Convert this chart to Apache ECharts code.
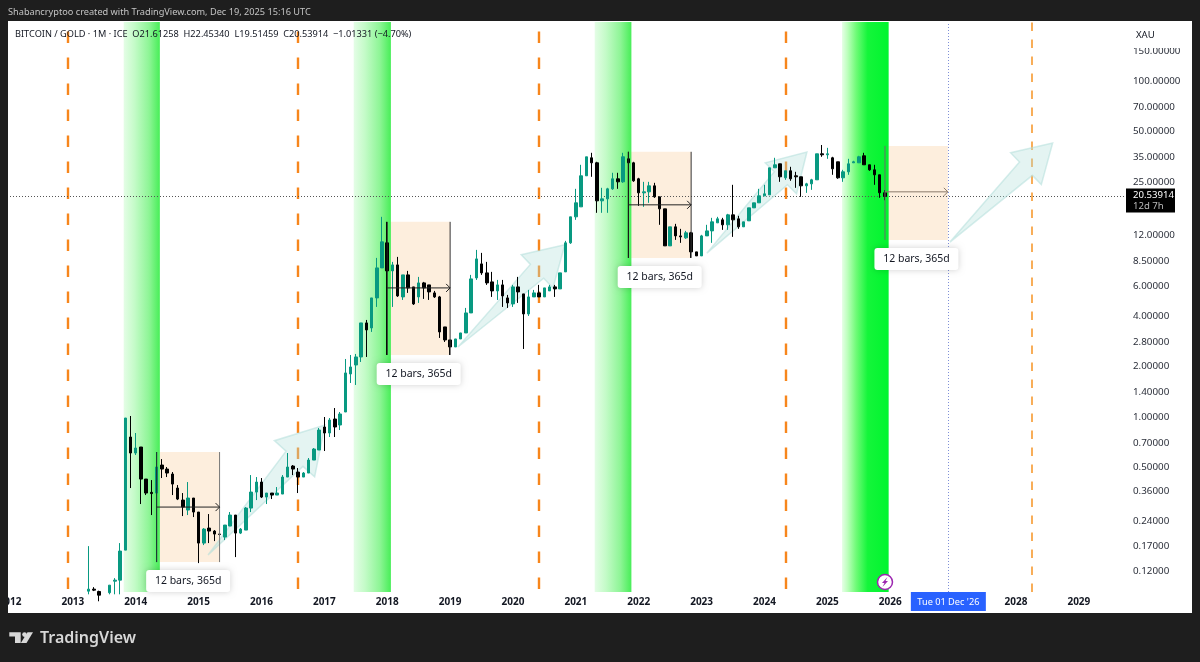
<!DOCTYPE html>
<html>
<head>
<meta charset="utf-8">
<title>BITCOIN / GOLD</title>
<script src="https://cdn.jsdelivr.net/npm/echarts@6/dist/echarts.min.js"></script>
<style>
    html, body { margin: 0; padding: 0; background: #1e1e1e; }
    #mychart { width: 1200px; height: 662px; }
</style>
</head>
<body>
<div id="mychart"></div>
<script>
// months are counted from Jan 2013 = 0
const firstMonth = 3;
const opens = [.0919,.0945,.0915,.0860,.0900,.1054,.1069,.1613,.7600,.6104,.6626,.4272,.3560,.3527,.5177,.4900,.4576,.3777,.3203,.2793,.3293,.2718,.1776,.2182,.2094,.2010,.1929,.2243,.2608,.2037,.2123,.2871,.3575,.4100,.3338,.3527,.3431,.3478,.4391,.5106,.4703,.4391,.4639,.5544,.6359,.8718,.8032,.9729,.8960,1.071,1.804,2.040,2.277,3.631,3.390,5.115,7.718,10.88,7.409,8.043,5.186,7.013,5.949,5.186,6.284,6.114,5.479,5.186,3.437,2.875,2.612,2.915,3.165,4.164,6.730,8.154,7.209,6.371,5.631,6.114,5.115,4.711,5.949,5.404,4.107,5.186,5.479,5.186,5.631,5.949,5.787,7.308,10.88,15.54,17.82,27.27,34.90,32.59,19.35,19.88,22.81,26.17,25.11,34.42,32.59,26.17,21.59,21.89,23.77,20.44,17.34,10.44,13.55,11.97,11.65,12.48,9.613,9.099,11.97,12.82,14.31,14.91,13.93,15.97,15.12,13.55,14.71,17.58,18.83,20.72,21.01,30.43,32.14,26.53,29.21,27.27,26.90,23.77,24.43,25.81,36.87,36.37,34.90,33.04,26.53,28.81,32.59,32.59,35.87,31.71,29.60,27.65,21.61258];
const closes = [.0945,.0932,.0870,.0870,.0998,.1069,.1592,.9863,.6104,.6536,.4272,.3527,.3500,.5037,.4900,.4639,.3989,.3248,.2910,.3293,.2718,.1776,.2152,.2094,.2010,.2000,.2274,.2608,.2037,.2152,.2871,.3575,.4100,.3338,.3527,.3431,.3527,.4391,.5037,.4900,.4391,.4639,.5544,.6447,.8366,.8032,.9596,.8718,1.042,1.829,1.985,2.277,3.631,3.298,5.115,7.718,11.03,7.409,8.043,5.257,7.013,5.867,4.711,6.284,5.867,5.554,5.186,3.209,2.875,2.612,2.915,3.165,4.164,6.638,8.732,7.209,6.284,5.631,6.114,5.257,4.776,5.949,5.554,4.107,5.186,5.479,5.186,5.867,5.949,5.787,7.209,10.88,15.54,18.83,27.27,35.38,32.59,19.35,19.88,22.81,26.17,25.11,35.38,32.59,25.46,21.59,21.89,23.77,20.44,17.34,10.44,13.55,11.97,11.81,12.48,9.613,9.099,11.97,12.82,14.51,15.12,13.93,15.97,14.91,13.55,14.51,17.58,18.83,20.72,21.30,30.43,31.71,26.90,29.21,26.17,26.90,23.77,24.43,25.81,36.87,36.37,36.87,30.01,26.53,28.81,32.14,33.04,35.38,31.71,29.60,27.65,21.61,20.53914];
const lows = [.0880,.0920,.0800,.0780,.0880,.0880,.0880,.1613,.3777,.5938,.3033,.3431,.2608,.1369,.4332,.4391,.3431,.3203,.2572,.2608,.2537,.1350,.1728,.1776,.1825,.1955,.1851,.2243,.1466,.2010,.2123,.2718,.3203,.3293,.3033,.3248,.3431,.3478,.4391,.4513,.3527,.4391,.4639,.5544,.6359,.6273,.7600,.7600,.8366,1.071,1.594,1.551,2.126,2.277,3.209,4.521,7.718,2.340,4.521,5.186,4.976,5.479,4.646,4.776,5.045,4.976,5.115,2.955,2.797,2.340,2.612,2.915,3.165,4.164,6.547,7.013,6.114,5.186,4.976,4.521,4.459,4.521,4.776,2.541,3.996,5.186,5.186,5.186,5.631,5.186,5.787,7.308,10.73,14.91,17.82,27.27,26.90,16.42,16.42,16.42,22.50,22.81,24.77,8.853,25.11,18.07,17.82,18.83,20.16,13.93,10.44,10.44,11.33,10.88,11.49,8.853,9.099,9.099,11.97,10.88,14.31,13.00,13.00,11.81,13.18,13.55,14.71,17.58,18.83,20.72,21.01,30.43,25.11,25.81,25.46,23.13,20.44,21.59,22.50,25.81,35.38,34.42,27.65,26.17,25.11,27.65,32.59,32.59,31.71,29.21,24.10,20.16,19.51459];
const highs = [.1704,.0971,.0925,.0895,.0998,.1099,.1776,.9863,1.014,.8032,.6626,.4272,.4214,.6188,.5621,.5037,.4703,.3935,.3527,.4100,.3293,.2718,.2182,.2644,.2123,.2037,.2274,.2718,.2608,.2182,.2910,.4513,.4391,.4332,.3527,.3527,.3829,.4513,.6104,.5177,.4968,.4703,.5699,.6536,.8600,1.000,.9863,1.131,1.071,2.215,2.340,2.373,3.631,3.782,5.115,8.853,15.54,14.51,8.381,8.975,7.013,7.409,5.949,6.823,6.371,6.114,5.631,5.257,3.437,2.875,2.915,3.165,4.459,7.013,9.880,9.482,8.381,7.308,6.547,6.547,5.330,6.114,6.823,5.404,5.708,5.708,6.114,5.867,6.114,6.114,7.209,11.18,15.54,22.81,31.71,35.38,37.38,33.04,23.13,23.13,28.42,28.42,37.38,37.90,33.04,26.53,25.11,25.11,24.77,20.44,17.34,13.55,14.12,13.18,12.82,12.65,9.613,12.14,13.93,15.33,15.54,15.33,16.19,24.10,15.76,14.51,17.58,18.83,22.81,24.10,30.43,34.90,32.14,29.21,30.85,28.81,26.90,24.77,26.17,36.87,41.60,40.00,35.38,33.04,29.60,34.42,33.49,35.87,37.38,31.71,31.71,27.65,22.4534];

const cycleMonths = [-1, 43, 89, 136, 183];
const bandStart = [9.7, 53.6, 99.6, 146.8];
const bandEnd = [16.6, 60.7, 106.6, 155.7];

const measureStart = [16, 60, 106, 155];
const measureEnd = [28, 72, 118, 167];
const measureHigh = [0.6188, 14.51, 37.90, 41.1];
const measureLow = [0.1369, 2.340, 8.853, 11.33];
const measureMid = [0.2910, 5.867, 18.32, 21.89];
const measureText = '12 bars, 365d';

const arrowTailMonth = [25.8, 73.5, 121, 167.4];
const arrowTailPrice = [0.151, 2.61, 9.45, 11.0];
const arrowTipMonth = [48.1, 93.9, 140.1, 187];
const arrowTipPrice = [0.896, 10.6, 37.8, 42.8];

const priceTicks = [0.12, 0.17, 0.24, 0.36, 0.5, 0.7, 1, 1.4, 2, 2.8, 4, 6, 8.5, 12, 25, 35, 50, 70, 100, 150];
const yearZero = 2013;
const lastPrice = 20.53914;
const lastPriceText = '20.53914';
const countdownText = '12d 7h';
const cursorMonth = 167;
const cursorText = "Tue 01 Dec '26";
const markerMonth = 155;

const titleText = 'Shabancryptoo created with TradingView.com, Dec 19, 2025 15:16 UTC';
const legendText = 'BITCOIN / GOLD · 1M · ICE  O21.61258  H22.45340  L19.51459  C20.53914  −1.01331 (−4.70%)';

const FONT = '"Noto Sans", sans-serif';
const DARK = '#1e1e1e';

const candles = opens.map((o, i) => [firstMonth + i, o, closes[i], lows[i], highs[i]]);
const bands = bandStart.map((s, i) => [s, bandEnd[i], 1]);
const measures = measureStart.map((s, i) => [s, measureEnd[i], measureLow[i], measureHigh[i], measureMid[i]]);
const arrows = arrowTailMonth.map((m, i) => [m, arrowTipMonth[i], arrowTailPrice[i], arrowTipPrice[i]]);

function bandGradient(i) {
    let stops = [[0, '#e4fde6'], [0.3, '#c4fbc8'], [0.7, '#8ef596'], [1, '#48ee58']];
    if (i === 3) {
        stops = [[0, '#e6ffe6'], [0.12, '#bcffbc'], [0.3, '#70fb78'], [0.55, '#14f53a'], [1, '#00f52e']];
    }
    return new echarts.graphic.LinearGradient(0, 0, 1, 0, stops.map(s => ({ offset: s[0], color: s[1] })));
}

function renderBand(params, api) {
    let a = api.coord([api.value(0), 1]);
    let b = api.coord([api.value(1), 1]);
    let sys = params.coordSys;
    return {
        type: 'rect',
        shape: { x: a[0], y: sys.y, width: b[0] - a[0], height: sys.height },
        style: { fill: bandGradient(params.dataIndex) }
    };
}

function renderMeasureFill(params, api) {
    let a = api.coord([api.value(0), api.value(3)]);
    let b = api.coord([api.value(1), api.value(2)]);
    return {
        type: 'rect',
        shape: { x: a[0], y: a[1], width: b[0] - a[0], height: b[1] - a[1] },
        style: { fill: '#fdeedd' }
    };
}

function renderMeasureLines(params, api) {
    let a = api.coord([api.value(0), api.value(3)]);
    let b = api.coord([api.value(1), api.value(2)]);
    let midY = api.coord([api.value(0), api.value(4)])[1];
    let faded = params.dataIndex === 3;
    let lineColor = faded ? '#6b6b6b' : '#222222';
    let children = [
        { type: 'line', shape: { x1: a[0], y1: a[1], x2: a[0], y2: b[1] }, style: { stroke: lineColor, lineWidth: 1 } },
        { type: 'line', shape: { x1: a[0], y1: midY, x2: b[0], y2: midY }, style: { stroke: faded ? '#8a7a6a' : '#222222', lineWidth: 1 } },
        { type: 'polyline', shape: { points: [[b[0] - 4, midY - 4], [b[0], midY], [b[0] - 4, midY + 4]] }, style: { stroke: faded ? '#8a7a6a' : '#222222', fill: 'none', lineWidth: 1 } },
        // label box under the range
        { type: 'rect', shape: { x: (a[0] + b[0]) / 2 - 42, y: b[1] + 8, width: 84, height: 22, r: 3 }, style: { fill: '#ffffff', shadowBlur: 6, shadowColor: 'rgba(0,0,0,0.18)' } },
        { type: 'text', style: { x: (a[0] + b[0]) / 2, y: b[1] + 19, text: measureText, fill: '#131722', font: '10.5px ' + FONT, align: 'center', verticalAlign: 'middle' } }
    ];
    if (!faded) {
        children.unshift({ type: 'line', shape: { x1: b[0], y1: a[1], x2: b[0], y2: b[1] }, style: { stroke: params.dataIndex === 0 ? '#777777' : '#333333', lineWidth: 1 } });
    }
    return { type: 'group', children: children };
}

function renderArrow(params, api) {
    let tail = api.coord([api.value(0), api.value(2)]);
    let tip = api.coord([api.value(1), api.value(3)]);
    let dx = tip[0] - tail[0], dy = tip[1] - tail[1];
    let len = Math.sqrt(dx * dx + dy * dy);
    let ux = dx / len, uy = dy / len;
    let bx = tip[0] - ux * len * 0.26, by = tip[1] - uy * len * 0.26;
    let wing = len * 0.155, neck = len * 0.065;
    return {
        type: 'polygon',
        shape: { points: [
            tail,
            [bx - uy * neck, by + ux * neck],
            [bx - uy * wing, by + ux * wing],
            tip,
            [bx + uy * wing, by - ux * wing],
            [bx + uy * neck, by - ux * neck]
        ] },
        style: { fill: 'rgba(178,223,219,0.35)', stroke: 'rgba(178,223,219,0.55)', lineWidth: 1.5 }
    };
}

function renderTags(params, api) {
    let sys = params.coordSys;
    let priceY = api.coord([0, lastPrice])[1];
    let cursorX = api.coord([cursorMonth, 1])[0];
    let markerX = api.coord([markerMonth, 1])[0];
    let bottom = sys.y + sys.height;
    return {
        type: 'group',
        children: [
            { type: 'rect', shape: { x: sys.x + sys.width, y: priceY - 8, width: 49, height: 24 }, style: { fill: '#000000' } },
            { type: 'text', style: { x: sys.x + sys.width + 7, y: priceY - 1, text: lastPriceText, fill: '#ffffff', font: '9.6px ' + FONT, verticalAlign: 'middle' } },
            { type: 'text', style: { x: sys.x + sys.width + 7, y: priceY + 10, text: countdownText, fill: '#b8b8b8', font: '9.6px ' + FONT, verticalAlign: 'middle' } },
            { type: 'rect', shape: { x: cursorX - 37, y: bottom, width: 75, height: 19 }, style: { fill: '#2962ff' } },
            { type: 'text', style: { x: cursorX + 0.5, y: bottom + 10, text: cursorText, fill: '#ffffff', font: '9.2px ' + FONT, align: 'center', verticalAlign: 'middle' } },
            { type: 'circle', shape: { cx: markerX, cy: bottom - 10, r: 7.5 }, style: { fill: '#ffffff', stroke: '#9c27b0', lineWidth: 1.5 } },
            { type: 'polygon', shape: { points: [[markerX + 2.5, bottom - 15], [markerX - 3, bottom - 9], [markerX - 0.5, bottom - 9], [markerX - 2.5, bottom - 5], [markerX + 3, bottom - 11], [markerX + 0.5, bottom - 11]] }, style: { fill: '#9c27b0' } }
        ]
    };
}

const frame = [
    { type: 'rect', z: 100, shape: { x: 0, y: 0, width: 1200, height: 21 }, style: { fill: DARK } },
    { type: 'rect', z: 100, shape: { x: 0, y: 0, width: 8, height: 662 }, style: { fill: DARK } },
    { type: 'rect', z: 100, shape: { x: 1192, y: 0, width: 8, height: 662 }, style: { fill: DARK } },
    { type: 'rect', z: 100, shape: { x: 0, y: 613, width: 1200, height: 49 }, style: { fill: DARK } },
    { type: 'text', z: 101, style: { x: 8, y: 12, text: titleText, fill: '#c4c4c4', font: '9.2px ' + FONT, verticalAlign: 'middle' } },
    { type: 'text', z: 101, style: { x: 15, y: 34, text: legendText, fill: '#131722', font: '9.2px ' + FONT, verticalAlign: 'middle' } },
    { type: 'rect', z: 90, shape: { x: 1127, y: 23, width: 60, height: 25 }, style: { fill: '#ffffff' } },
    { type: 'text', z: 101, style: { x: 1136, y: 35, text: 'XAU', fill: '#131722', font: '9.6px ' + FONT, verticalAlign: 'middle' } },
    // TradingView logo
    { type: 'polygon', z: 101, shape: { points: [[9.3, 632.3], [20.7, 632.3], [20.7, 643], [15, 643], [15, 636.5], [9.3, 636.5]] }, style: { fill: '#d8d8d8' } },
    { type: 'circle', z: 101, shape: { cx: 24.5, cy: 634.6, r: 2.3 }, style: { fill: '#d8d8d8' } },
    { type: 'polygon', z: 101, shape: { points: [[33, 632.3], [26.5, 643], [20.8, 643], [27.5, 632.3]] }, style: { fill: '#d8d8d8' } },
    { type: 'text', z: 101, style: { x: 40, y: 638, text: 'TradingView', fill: '#d8d8d8', font: '600 16px ' + FONT, verticalAlign: 'middle' } }
];

const option = {
    animation: false,
    backgroundColor: '#ffffff',
    graphic: { elements: frame },
    grid: { left: 10, top: 22, width: 1116, height: 570, outerBoundsMode: 'none' },
    xAxis: {
        type: 'value',
        min: -12,
        max: 201,
        interval: 12,
        splitLine: { show: false },
        axisLine: { show: false },
        axisTick: { show: false },
        axisLabel: {
            margin: 5,
            showMaxLabel: false,
            color: '#131722',
            fontFamily: FONT,
            fontSize: 10,
            fontWeight: 'bold',
            formatter: function (m) {
                let year = yearZero + m / 12;
                return year === 2027 ? '' : String(year);
            }
        }
    },
    yAxis: {
        type: 'log',
        logBase: 10,
        position: 'right',
        min: 0.09085,
        max: 224.5,
        splitLine: { show: false },
        axisLine: { show: false },
        axisTick: { show: false },
        axisLabel: {
            margin: 7,
            customValues: priceTicks,
            color: '#2a2e39',
            fontFamily: FONT,
            fontSize: 9.8,
            formatter: function (v) { return Number(v).toFixed(5); }
        }
    },
    series: [
        {
            type: 'custom', name: 'ranges', z: 1, silent: true,
            encode: { x: [0, 1], y: [2, 3, 4] },
            renderItem: renderMeasureFill, data: measures
        },
        {
            type: 'custom', name: 'bands', z: 2, silent: true,
            encode: { x: [0, 1], y: 2 },
            renderItem: renderBand, data: bands
        },
        {
            type: 'custom', name: 'arrows', z: 3, silent: true,
            encode: { x: [0, 1], y: [2, 3] },
            renderItem: renderArrow, data: arrows
        },
        {
            type: 'candlestick', name: 'BTC/XAU', z: 4, barWidth: 3, silent: true,
            itemStyle: {
                color: '#089981', color0: '#000000',
                borderColor: '#089981', borderColor0: '#000000',
                borderWidth: 1
            },
            data: candles,
            markLine: {
                z: 3, silent: true, symbol: 'none', animation: false,
                label: { show: false },
                data: cycleMonths.map((m, i) => ({
                    xAxis: m,
                    // the last line was drawn thinner and with shorter dashes
                    lineStyle: i === 4
                        ? { color: '#f7a03c', width: 1.7, type: [8.5, 8.5] }
                        : { color: '#f7861c', width: 2.4, type: [11.5, 14.5], dashOffset: 23 }
                })).concat([
                    { xAxis: cursorMonth, lineStyle: { color: '#7f8fd8', width: 1, type: [1, 2] } },
                    { yAxis: lastPrice, lineStyle: { color: '#555555', width: 1, type: [1, 2] } }
                ])
            }
        },
        {
            type: 'custom', name: 'range lines', z: 6, silent: true,
            encode: { x: [0, 1], y: [2, 3, 4] },
            renderItem: renderMeasureLines, data: measures
        },
        {
            type: 'custom', name: 'tags', z: 7, silent: true,
            encode: { x: 0, y: 1 },
            renderItem: renderTags, data: [[cursorMonth, lastPrice]]
        }
    ]
};

let myChart = echarts.init(document.getElementById('mychart'));
myChart.setOption(option);
</script>
</body>
</html>
